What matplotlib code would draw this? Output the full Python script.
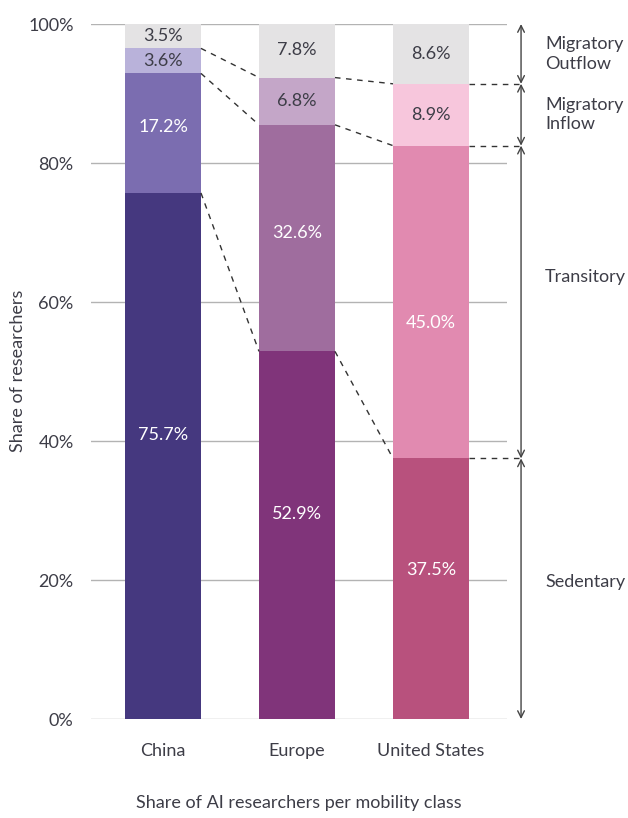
import matplotlib
matplotlib.use("Agg")
import matplotlib.pyplot as plt

regions = ["China", "Europe", "United States"]
sedentary = [75.7, 52.9, 37.5]
transitory = [17.2, 32.6, 45.0]
inflow = [3.6, 6.8, 8.9]
outflow = [3.5, 7.8, 8.6]
y_ticks = [0, 20, 40, 60, 80, 100]
class_labels = ["Sedentary", "Transitory", "Migratory\nInflow", "Migratory\nOutflow"]

colors = [
    ["#45387f", "#7b6db0", "#b9b2da", "#e4e3e4"],
    ["#80347a", "#9f6d9e", "#c4a6c8", "#e4e3e4"],
    ["#b8517d", "#e18ab0", "#f7c6dc", "#e4e3e4"],
]
label_dark = [False, False, True, True]
# vertical nudges of value labels (percentage points), per bar / layer
label_nudge = [[3.0, 0.9, 0, 0], [3.0, 0.7, 0, 0], [2.7, -3.0, 0, 0]]
class_nudge = [1.0, 3.6, 0, 0]

plt.rcParams['font.family'] = ['Lato', 'DejaVu Sans']
text_col = "#3d3d47"
fs = 13

fig = plt.figure(figsize=(6.28, 8.18), dpi=100)
ax = fig.add_axes([0.1449, 0.121, 0.6624, 0.8496])

x = [0, 1, 2]
w = 0.567
series = [sedentary, transitory, inflow, outflow]
bottoms = [0, 0, 0]
tops_per_layer = []
for li, s in enumerate(series):
    for i in range(3):
        ax.bar(x[i], s[i], bottom=bottoms[i], width=w, color=colors[i][li], zorder=2)
        col = text_col if label_dark[li] else "white"
        ax.text(x[i], bottoms[i] + s[i] / 2 + label_nudge[i][li], f"{s[i]:.1f}%",
                ha="center", va="center", fontsize=fs, color=col, zorder=3)
    bottoms = [bottoms[i] + s[i] for i in range(3)]
    tops_per_layer.append(list(bottoms))

xmin, xmax = -0.537, 2.567
ax.set_xlim(xmin, xmax)
ax.set_ylim(0, 100)
for t in y_ticks:
    ax.axhline(t, color="#b3b3b3", lw=1, zorder=1)
ax.set_yticks(y_ticks)
ax.set_yticklabels([f"{t}%" for t in y_ticks])
ax.set_xticks(x)
ax.set_xticklabels(regions)
ax.tick_params(length=0, labelsize=fs, colors=text_col)
ax.tick_params(axis='x', pad=17)
ax.tick_params(axis='y', pad=12.5)
for sp in ax.spines.values():
    sp.set_visible(False)

fig.text(18 / 628, 1 - 371 / 818, "Share of researchers", rotation=90,
         ha="center", va="center", fontsize=fs, color=text_col)
fig.text(0.1449 + 0.6624 / 2, 1 - 803 / 818, "Share of AI researchers per mobility class",
         ha="center", va="center", fontsize=fs, color=text_col)

# dashed connectors
arrow_x = xmin + (521 - 91) / 134.0
for layer in range(3):
    tops = tops_per_layer[layer]
    for i in range(2):
        ax.plot([x[i] + w / 2, x[i + 1] - w / 2], [tops[i], tops[i + 1]],
                ls=(0, (4, 4)), color="#333333", lw=1, zorder=3, clip_on=False)
    ax.plot([x[2] + w / 2, arrow_x], [tops[2], tops[2]],
            ls=(0, (4, 4)), color="#333333", lw=1, zorder=3, clip_on=False)

# bracket arrows on the right
us_bounds = [0] + [tops_per_layer[k][2] for k in range(3)] + [100]
label_x = xmin + (545 - 91) / 134.0
for k in range(4):
    lo, hi = us_bounds[k], us_bounds[k + 1]
    ax.annotate("", xy=(arrow_x, hi), xytext=(arrow_x, lo),
                arrowprops=dict(arrowstyle="<->", color="#444444", lw=1,
                                shrinkA=0, shrinkB=0, mutation_scale=12),
                annotation_clip=False)
    ax.text(label_x, (lo + hi) / 2 + class_nudge[k], class_labels[k], ha="left", va="center",
            fontsize=fs, color=text_col, linespacing=1.25, clip_on=False)

fig.savefig("out.png", dpi=100)
